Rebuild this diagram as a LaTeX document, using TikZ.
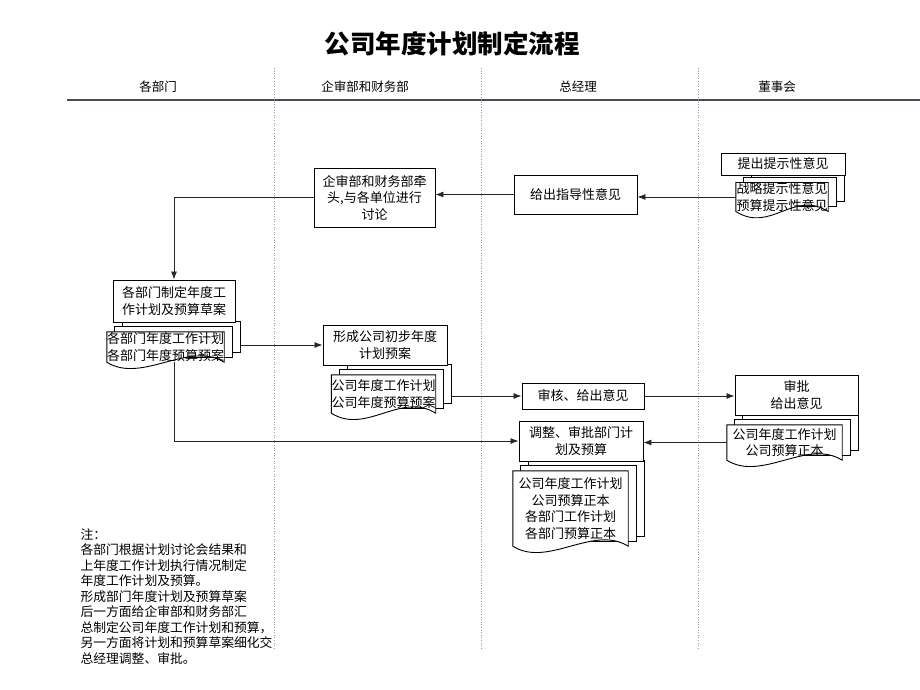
\documentclass[tikz,border=0pt]{standalone}
\usepackage{fontspec}
\setmainfont{Noto Sans CJK SC}
\usetikzlibrary{positioning, calc, backgrounds, arrows.meta}
\definecolor{rulegray}{RGB}{80,72,88}

\begin{document}
\begin{tikzpicture}[x=1pt, y=1pt,
    font=\fontsize{13}{16.5}\selectfont,
    box/.style={draw=black, fill=white, rectangle, line width=0.9pt, align=center, inner sep=0pt},
    docpage/.style={rectangle, align=center, inner sep=0pt},
    sheet/.style={draw=black, fill=white, line width=0.9pt},
    lane/.style={draw=gray!80, dotted, line width=0.6pt},
    head/.style={font=\fontsize{12.5}{14}\selectfont},
    arrow/.style={-{Latex[length=8pt,width=6pt]}, line width=0.8pt, black!85}
]
\useasboundingbox (0,0) rectangle (920,-690);

% title and lanes
\node[font=\fontsize{25.5}{28}\selectfont\bfseries] (title) at (452,-44) {公司年度计划制定流程};
\node[head] (dept) at (158,-87) {各部门};
\node[head] (audit) at (365,-87) {企审部和财务部};
\node[head] (gm) at (578,-87) {总经理};
\node[head] (board) at (777,-87) {董事会};
\draw[rulegray, line width=1.4pt] (67,-100) -- (920,-100);
\draw[lane] (274,-68) -- (274,-648);
\draw[lane] (481,-68) -- (481,-648);
\draw[lane] (698,-68) -- (698,-648);

% boxes
\node[box, minimum width=124, minimum height=22] (hint) at (783,-164) {提出提示性意见};
\node[box, minimum width=123, minimum height=39] (guide) at (575.5,-194.5) {给出指导性意见};
\node[box, minimum width=121, minimum height=59] (lead) at (374.5,-197.5) {企审部和财务部牵\\头,与各单位进行\\讨论};
\node[box, minimum width=122, minimum height=42] (draft) at (174,-301) {各部门制定年度工\\作计划及预算草案};
\node[box, minimum width=124, minimum height=40] (prelim) at (385,-345) {形成公司初步年度\\计划预案};
\node[box, minimum width=122, minimum height=26] (review) at (583,-396) {审核、给出意见};
\node[box, minimum width=123, minimum height=40] (approve) at (796.5,-395) {审批\\给出意见};
\node[box, minimum width=124, minimum height=40] (adjust) at (581,-441) {调整、审批部门计\\划及预算};

% documents
\node[docpage, minimum width=92, minimum height=24] (hintdoc) at (782,-197) {战略提示性意见\\预算提示性意见};
\node[docpage, minimum width=105, minimum height=30] (draftdoc) at (165.5,-347) {各部门年度工作计划\\各部门年度预算预案};
\node[docpage, minimum width=93, minimum height=38] (prelimdoc) at (383.5,-394) {公司年度工作计划\\公司年度预算预案};
\node[docpage, minimum width=115, minimum height=35] (approvedoc) at (784.5,-442.5) {公司年度工作计划\\公司预算正本};
\node[docpage, minimum width=115, minimum height=75] (adjustdoc) at (570.5,-508.5) {公司年度工作计划\\公司预算正本\\各部门工作计划\\各部门预算正本};

\begin{scope}[on background layer]
\foreach \d in {hintdoc,draftdoc,prelimdoc,approvedoc,adjustdoc} {
  \draw[sheet] ([shift={(16,10)}]\d.south west) rectangle ([shift={(16,10)}]\d.north east);
  \draw[sheet] ([shift={(8,5)}]\d.south west) rectangle ([shift={(8,5)}]\d.north east);
  \draw[sheet] (\d.north west) -- (\d.north east) -- (\d.south east)
    .. controls +(-35,22) and +(35,-22) .. (\d.south west) -- cycle;
}
\end{scope}

% connectors
\draw[arrow] (hintdoc.west) -- (hintdoc.west -| guide.east);
\draw[arrow] (guide.west) -- (guide.west -| lead.east);
\draw[arrow] (lead.west) -| (draft.north);
\draw[arrow] ($(draftdoc.east |- prelim.west)+(16,0)$) -- (prelim.west);
\draw[arrow] ($(prelimdoc.east |- review.west)+(16,0)$) -- (review.west);
\draw[arrow] (review.east) -- (review.east -| approve.west);
\draw[arrow] (approvedoc.west) -- (approvedoc.west -| adjust.east);
\draw[arrow] (draftdoc.south -| draft.south) |- (adjust.west);

% note
\node[align=left, anchor=north west, font=\fontsize{12.8}{15.5}\selectfont] (note) at (77,-525)
  {注：\\各部门根据计划讨论会结果和\\上年度工作计划执行情况制定\\年度工作计划及预算。\\形成部门年度计划及预算草案\\后一方面给企审部和财务部汇\\总制定公司年度工作计划和预算，\\另一方面将计划和预算草案细化交\\总经理调整、审批。};
\end{tikzpicture}
\end{document}
